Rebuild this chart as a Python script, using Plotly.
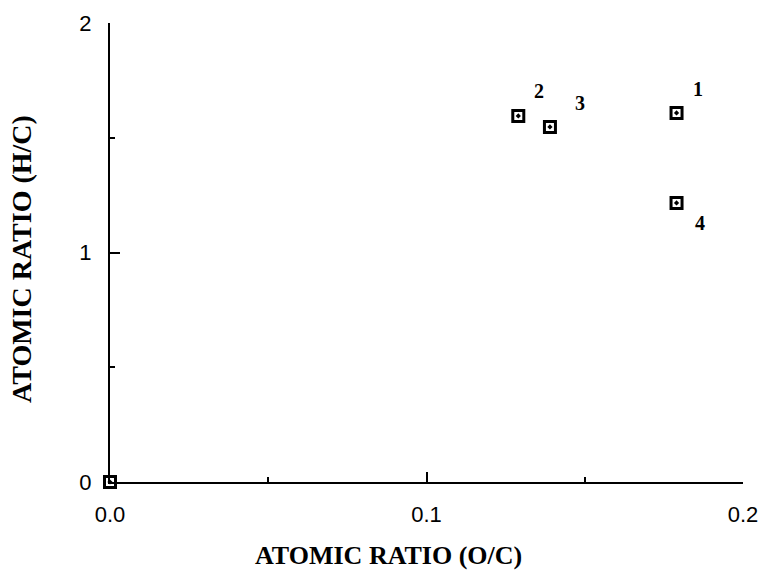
import plotly.graph_objects as go

# Data
oc_ratio = [0.179, 0.129, 0.139, 0.179, 0.0]
hc_ratio = [1.608, 1.595, 1.547, 1.216, 0.0]
labels = ["1", "2", "3", "4", ""]
label_shift_x = [21, 21, 30, 23, 0]
label_shift_y = [24, 25, 24, -20, 0]

x_ticks = [0.0, 0.1, 0.2]
x_tick_text = ["0.0", "0.1", "0.2"]
y_ticks = [0, 1, 2]
y_tick_text = ["0", "1", "2"]

x_title = "ATOMIC RATIO (O/C)"
y_title = "ATOMIC RATIO (H/C)"

fig = go.Figure()
fig.add_trace(go.Scatter(
    x=oc_ratio, y=hc_ratio, mode="markers",
    marker=dict(symbol="square-open-dot", size=11, color="black",
                line=dict(color="black", width=3)),
    cliponaxis=False, showlegend=False,
))

for xv, yv, t, sx, sy in zip(oc_ratio, hc_ratio, labels, label_shift_x, label_shift_y):
    if t:
        fig.add_annotation(x=xv, y=yv, text="<b>" + t + "</b>", showarrow=False,
                           xshift=sx, yshift=sy,
                           font=dict(family="Liberation Serif", size=20, color="black"))

fig.add_annotation(xref="paper", yref="paper", x=0.44, y=0, yshift=-73,
                   text="<b>" + x_title + "</b>", showarrow=False,
                   xanchor="center", yanchor="middle",
                   font=dict(family="Liberation Serif", size=26, color="black"))
fig.add_annotation(xref="paper", yref="paper", x=0, y=0.486, xshift=-88,
                   text="<b>" + y_title + "</b>", showarrow=False, textangle=-90,
                   xanchor="center", yanchor="middle",
                   font=dict(family="Liberation Serif", size=28, color="black"))

fig.update_layout(
    width=764, height=572,
    margin=dict(l=110, r=21, t=23, b=90, autoexpand=False),
    plot_bgcolor="white", paper_bgcolor="white",
    font=dict(family="Liberation Sans", color="black"),
)
fig.update_xaxes(
    range=[0, 0.2], tickvals=x_ticks, ticktext=x_tick_text,
    showgrid=False, zeroline=False, automargin=False,
    showline=True, linecolor="black", linewidth=2,
    ticks="inside", ticklen=10, tickwidth=2, tickcolor="black",
    minor=dict(dtick=0.05, tick0=0, ticks="inside", ticklen=5, tickwidth=2, tickcolor="black", showgrid=False),
    tickfont=dict(family="Liberation Sans", size=22, color="black"),
    ticklabelstandoff=12,
)
fig.update_yaxes(
    range=[0, 2], tickvals=y_ticks, ticktext=y_tick_text,
    showgrid=False, zeroline=False, automargin=False,
    showline=True, linecolor="black", linewidth=2,
    ticks="inside", ticklen=10, tickwidth=2, tickcolor="black",
    minor=dict(dtick=0.5, tick0=0, ticks="inside", ticklen=5, tickwidth=2, tickcolor="black", showgrid=False),
    tickfont=dict(family="Liberation Sans", size=22, color="black"),
    ticklabelstandoff=12,
)

fig.write_html("out.html")
